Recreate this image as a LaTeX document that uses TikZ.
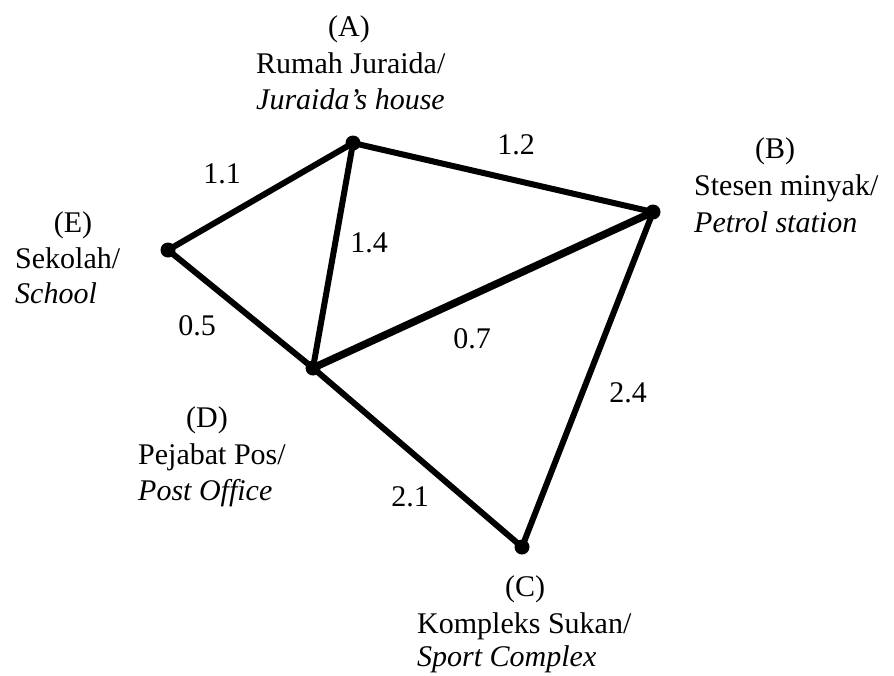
\documentclass[tikz,border=0pt]{standalone}
\usepackage{fontspec}
\setmainfont{Liberation Serif}
\begin{document}
\begin{tikzpicture}[x=1pt,y=-1pt,
  edge/.style={line width=6pt,line cap=round},
  thick edge/.style={line width=7.5pt,line cap=round},
  vtx/.style={circle,fill=black,inner sep=0pt,minimum size=15pt},
  txt/.style={inner sep=0pt,font=\fontsize{30}{36}\selectfont},
  lbl/.style={txt,anchor=base west},
  num/.style={txt,anchor=base}]
\useasboundingbox (0,0) rectangle (894,675);
\coordinate (A) at (353,143);
\coordinate (B) at (653,212);
\coordinate (E) at (168,250);
\coordinate (D) at (313,368);
\coordinate (C) at (522,547);
\draw[edge] (E) -- (A);
\draw[edge] (A) -- (B);
\draw[edge] (A) -- (D);
\draw[edge] (E) -- (D);
\draw[thick edge] (D) -- (B);
\draw[edge] (D) -- (C);
\draw[edge] (B) -- (C);
\node[vtx] (vA) at (A) {};
\node[vtx] (vB) at (B) {};
\node[vtx] (vE) at (E) {};
\node[vtx] (vD) at (D) {};
\node[vtx] (vC) at (C) {};
% labels
\node[num] (la1) at (349,36) {(A)};
\node[lbl] (la2) at (256,73) {Rumah Juraida/};
\node[lbl] (la3) at (256,109) {\itshape Juraida’s house};
\node[num] (lb1) at (775,158) {(B)};
\node[lbl] (lb2) at (694,195) {Stesen minyak/};
\node[lbl] (lb3) at (694,232) {\itshape Petrol station};
\node[num] (le1) at (73,232) {(E)};
\node[lbl] (le2) at (15,268) {Sekolah/};
\node[lbl] (le3) at (15,303) {\itshape School};
\node[num] (ld1) at (207,427) {(D)};
\node[lbl] (ld2) at (138,464) {Pejabat Pos/};
\node[lbl] (ld3) at (138,500) {\itshape Post Office};
\node[num] (lc1) at (525,596) {(C)};
\node[lbl] (lc2) at (417,633) {Kompleks Sukan/};
\node[lbl] (lc3) at (417,666) {\itshape Sport Complex};
% weights
\node[num] (w1) at (222,183) {1.1};
\node[num] (w2) at (516,154) {1.2};
\node[num] (w3) at (369,252) {1.4};
\node[num] (w4) at (197,335) {0.5};
\node[num] (w5) at (472,348) {0.7};
\node[num] (w6) at (628,402) {2.4};
\node[num] (w7) at (410,506) {2.1};
\end{tikzpicture}
\end{document}
